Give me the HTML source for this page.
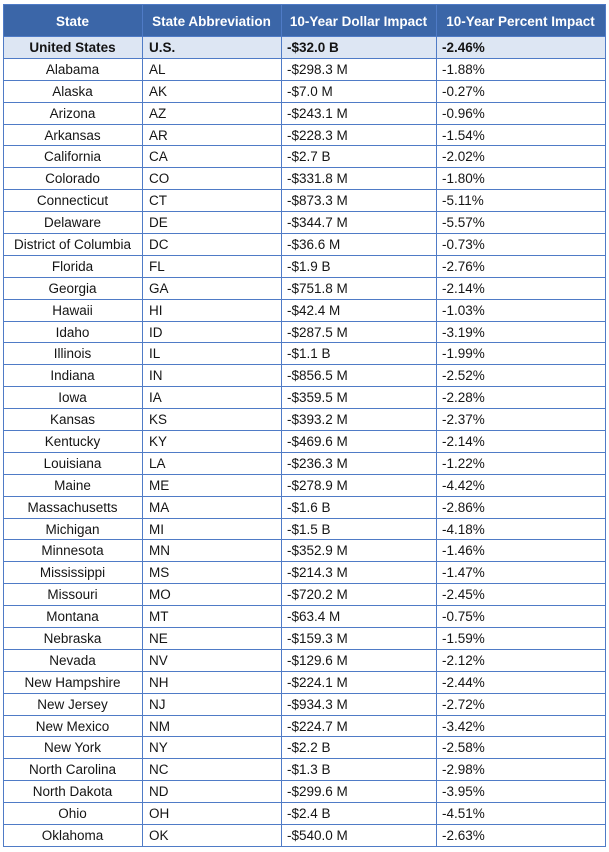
<!DOCTYPE html>
<html><head><meta charset="utf-8"><style>
*{margin:0;padding:0;box-sizing:border-box}
body{width:609px;height:852px;background:#fff;position:relative;overflow:hidden;font-family:"Liberation Sans",Arial,sans-serif;font-size:13.5px;color:#141414}
.hd{position:absolute;left:3px;top:4px;width:603px;height:32px;background:#3b66a8;border-top:1px solid #4f7bc6;display:flex;color:#fff;font-weight:bold;line-height:33px}
.r{position:absolute;left:3px;width:603px;height:22px;border-top:1px solid #4f7bc6;display:flex;line-height:21px}
.us{background:#dde6f3;font-weight:bold}
.c1{width:139px;text-align:center;white-space:nowrap}
.c2{width:139px;padding-left:7px;white-space:nowrap}
.c3{width:155px;padding-left:6px;white-space:nowrap}
.c4{width:169px;padding-left:6px;white-space:nowrap}
.hd .c2,.hd .c3,.hd .c4{text-align:center;padding-left:0}
.v{position:absolute;top:4px;width:1px;height:843px;background:#4f7bc6}
.bl{position:absolute;left:3px;top:846px;width:603px;height:1px;background:#4f7bc6}
</style></head><body>
<div class="hd"><div class="c1">State</div><div class="c2">State Abbreviation</div><div class="c3">10-Year Dollar Impact</div><div class="c4">10-Year Percent Impact</div></div>
<div class="r us" style="top:36px"><div class="c1">United States</div><div class="c2">U.S.</div><div class="c3">-$32.0 B</div><div class="c4">-2.46%</div></div>
<div class="r" style="top:57.89px"><div class="c1">Alabama</div><div class="c2">AL</div><div class="c3">-$298.3 M</div><div class="c4">-1.88%</div></div>
<div class="r" style="top:79.78px"><div class="c1">Alaska</div><div class="c2">AK</div><div class="c3">-$7.0 M</div><div class="c4">-0.27%</div></div>
<div class="r" style="top:101.67px"><div class="c1">Arizona</div><div class="c2">AZ</div><div class="c3">-$243.1 M</div><div class="c4">-0.96%</div></div>
<div class="r" style="top:123.56px"><div class="c1">Arkansas</div><div class="c2">AR</div><div class="c3">-$228.3 M</div><div class="c4">-1.54%</div></div>
<div class="r" style="top:145.45px"><div class="c1">California</div><div class="c2">CA</div><div class="c3">-$2.7 B</div><div class="c4">-2.02%</div></div>
<div class="r" style="top:167.34px"><div class="c1">Colorado</div><div class="c2">CO</div><div class="c3">-$331.8 M</div><div class="c4">-1.80%</div></div>
<div class="r" style="top:189.23px"><div class="c1">Connecticut</div><div class="c2">CT</div><div class="c3">-$873.3 M</div><div class="c4">-5.11%</div></div>
<div class="r" style="top:211.12px"><div class="c1">Delaware</div><div class="c2">DE</div><div class="c3">-$344.7 M</div><div class="c4">-5.57%</div></div>
<div class="r" style="top:233.01px"><div class="c1">District of Columbia</div><div class="c2">DC</div><div class="c3">-$36.6 M</div><div class="c4">-0.73%</div></div>
<div class="r" style="top:254.90px"><div class="c1">Florida</div><div class="c2">FL</div><div class="c3">-$1.9 B</div><div class="c4">-2.76%</div></div>
<div class="r" style="top:276.79px"><div class="c1">Georgia</div><div class="c2">GA</div><div class="c3">-$751.8 M</div><div class="c4">-2.14%</div></div>
<div class="r" style="top:298.68px"><div class="c1">Hawaii</div><div class="c2">HI</div><div class="c3">-$42.4 M</div><div class="c4">-1.03%</div></div>
<div class="r" style="top:320.57px"><div class="c1">Idaho</div><div class="c2">ID</div><div class="c3">-$287.5 M</div><div class="c4">-3.19%</div></div>
<div class="r" style="top:342.46px"><div class="c1">Illinois</div><div class="c2">IL</div><div class="c3">-$1.1 B</div><div class="c4">-1.99%</div></div>
<div class="r" style="top:364.35px"><div class="c1">Indiana</div><div class="c2">IN</div><div class="c3">-$856.5 M</div><div class="c4">-2.52%</div></div>
<div class="r" style="top:386.24px"><div class="c1">Iowa</div><div class="c2">IA</div><div class="c3">-$359.5 M</div><div class="c4">-2.28%</div></div>
<div class="r" style="top:408.13px"><div class="c1">Kansas</div><div class="c2">KS</div><div class="c3">-$393.2 M</div><div class="c4">-2.37%</div></div>
<div class="r" style="top:430.02px"><div class="c1">Kentucky</div><div class="c2">KY</div><div class="c3">-$469.6 M</div><div class="c4">-2.14%</div></div>
<div class="r" style="top:451.91px"><div class="c1">Louisiana</div><div class="c2">LA</div><div class="c3">-$236.3 M</div><div class="c4">-1.22%</div></div>
<div class="r" style="top:473.80px"><div class="c1">Maine</div><div class="c2">ME</div><div class="c3">-$278.9 M</div><div class="c4">-4.42%</div></div>
<div class="r" style="top:495.69px"><div class="c1">Massachusetts</div><div class="c2">MA</div><div class="c3">-$1.6 B</div><div class="c4">-2.86%</div></div>
<div class="r" style="top:517.58px"><div class="c1">Michigan</div><div class="c2">MI</div><div class="c3">-$1.5 B</div><div class="c4">-4.18%</div></div>
<div class="r" style="top:539.47px"><div class="c1">Minnesota</div><div class="c2">MN</div><div class="c3">-$352.9 M</div><div class="c4">-1.46%</div></div>
<div class="r" style="top:561.36px"><div class="c1">Mississippi</div><div class="c2">MS</div><div class="c3">-$214.3 M</div><div class="c4">-1.47%</div></div>
<div class="r" style="top:583.25px"><div class="c1">Missouri</div><div class="c2">MO</div><div class="c3">-$720.2 M</div><div class="c4">-2.45%</div></div>
<div class="r" style="top:605.14px"><div class="c1">Montana</div><div class="c2">MT</div><div class="c3">-$63.4 M</div><div class="c4">-0.75%</div></div>
<div class="r" style="top:627.03px"><div class="c1">Nebraska</div><div class="c2">NE</div><div class="c3">-$159.3 M</div><div class="c4">-1.59%</div></div>
<div class="r" style="top:648.92px"><div class="c1">Nevada</div><div class="c2">NV</div><div class="c3">-$129.6 M</div><div class="c4">-2.12%</div></div>
<div class="r" style="top:670.81px"><div class="c1">New Hampshire</div><div class="c2">NH</div><div class="c3">-$224.1 M</div><div class="c4">-2.44%</div></div>
<div class="r" style="top:692.70px"><div class="c1">New Jersey</div><div class="c2">NJ</div><div class="c3">-$934.3 M</div><div class="c4">-2.72%</div></div>
<div class="r" style="top:714.59px"><div class="c1">New Mexico</div><div class="c2">NM</div><div class="c3">-$224.7 M</div><div class="c4">-3.42%</div></div>
<div class="r" style="top:736.48px"><div class="c1">New York</div><div class="c2">NY</div><div class="c3">-$2.2 B</div><div class="c4">-2.58%</div></div>
<div class="r" style="top:758.37px"><div class="c1">North Carolina</div><div class="c2">NC</div><div class="c3">-$1.3 B</div><div class="c4">-2.98%</div></div>
<div class="r" style="top:780.26px"><div class="c1">North Dakota</div><div class="c2">ND</div><div class="c3">-$299.6 M</div><div class="c4">-3.95%</div></div>
<div class="r" style="top:802.15px"><div class="c1">Ohio</div><div class="c2">OH</div><div class="c3">-$2.4 B</div><div class="c4">-4.51%</div></div>
<div class="r" style="top:824.04px"><div class="c1">Oklahoma</div><div class="c2">OK</div><div class="c3">-$540.0 M</div><div class="c4">-2.63%</div></div>
<div class="bl"></div>
<div class="v" style="left:3px"></div>
<div class="v" style="left:142px"></div>
<div class="v" style="left:281px"></div>
<div class="v" style="left:436px"></div>
<div class="v" style="left:605px"></div>
</body></html>
